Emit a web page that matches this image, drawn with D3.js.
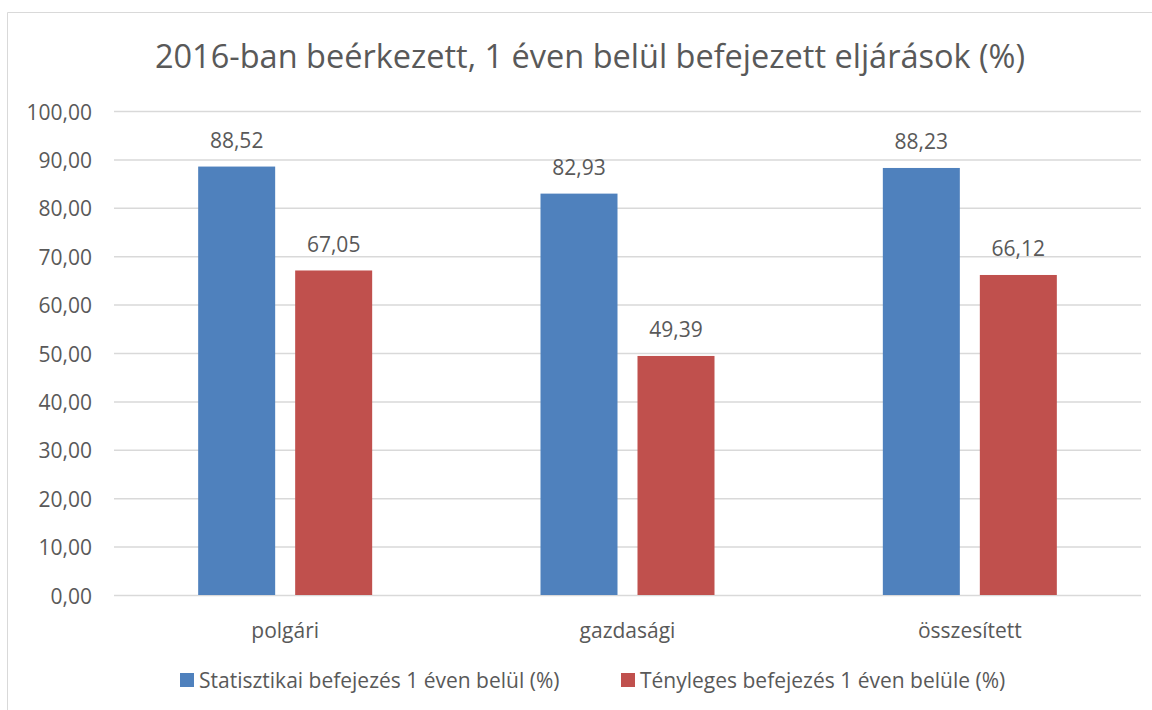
<!DOCTYPE html>
<html>
<head>
<meta charset="utf-8">
<script src="https://cdn.jsdelivr.net/npm/d3@7"></script>
<style>
  body { margin: 0; background: #fff; }
  text { font-family: "Open Sans", sans-serif; fill: #595959; }
</style>
</head>
<body>
<div class="chart"></div>
<script>
// data
const categories = ["polgári", "gazdasági", "összesített"];
const seriesNames = ["Statisztikai befejezés 1 éven belül (%)", "Tényleges befejezés 1 éven belüle (%)"];
const statisztikai = [88.52, 82.93, 88.23];
const tenyleges = [67.05, 49.39, 66.12];
const yTicks = [0, 10, 20, 30, 40, 50, 60, 70, 80, 90, 100];
const colors = ["#4F81BD", "#C0504D"];

const W = 1152, H = 710;
var svg = d3.select(".chart")
            .append("svg")
            .attr("width", W)
            .attr("height", H);

// outer border (chart area)
svg.append("path")
   .attr("d", "M7.5," + H + "V12.5H" + W)
   .attr("fill", "none")
   .attr("stroke", "#D9D9D9")
   .attr("stroke-width", 1);

svg.append("text")
   .attr("x", 590).attr("y", 68)
   .attr("text-anchor", "middle")
   .style("font-size", "32.5px")
   .text("2016-ban beérkezett, 1 éven belül befejezett eljárások (%)");

const plot = {left: 114, right: 1141, top: 111, bottom: 595};

var x = d3.scaleBand().domain(categories).range([plot.left, plot.right]);
var y = d3.scaleLinear().domain([0, 100]).range([plot.bottom, plot.top]);
var barW = 77, gap = 20;
var fs = "21px";

// gridlines
svg.append("g").selectAll("line").data(yTicks).join("line")
   .attr("x1", plot.left).attr("x2", plot.right)
   .attr("y1", d => y(d) + 0.5).attr("y2", d => y(d) + 0.5)
   .attr("stroke", "#D9D9D9").attr("stroke-width", 1.5);

// y tick labels
svg.append("g").selectAll("text").data(yTicks).join("text")
   .attr("x", 92).attr("y", d => y(d) + 8.5)
   .attr("text-anchor", "end")
   .style("font-size", fs)
   .text(d => d3.format(".2f")(d).replace(".", ","));

const series = [statisztikai, tenyleges];
series.forEach((vals, s) => {
  const off = s === 0 ? -gap / 2 - barW : gap / 2;
  const g = svg.append("g");
  g.selectAll("rect").data(vals).join("rect")
   .attr("x", (d, i) => x(categories[i]) + x.bandwidth() / 2 + off)
   .attr("y", d => y(d))
   .attr("width", barW)
   .attr("height", d => y(0) - y(d))
   .attr("fill", colors[s]);
  g.selectAll("text").data(vals).join("text")
   .attr("x", (d, i) => x(categories[i]) + x.bandwidth() / 2 + off + barW / 2)
   .attr("y", d => y(d) - 18.5)
   .attr("text-anchor", "middle")
   .style("font-size", fs)
   .text(d => d3.format(".2f")(d).replace(".", ","));
});

// category labels
svg.append("g").selectAll("text").data(categories).join("text")
   .attr("x", d => x(d) + x.bandwidth() / 2)
   .attr("y", 638)
   .attr("text-anchor", "middle")
   .style("font-size", fs)
   .text(d => d);

// legend
const legendX = [180, 621];
seriesNames.forEach((name, s) => {
  svg.append("rect")
     .attr("x", legendX[s]).attr("y", 673)
     .attr("width", 14).attr("height", 14)
     .attr("fill", colors[s]);
  svg.append("text")
     .attr("x", legendX[s] + 19).attr("y", 688)
     .style("font-size", fs)
     .text(name);
});
</script>
</body>
</html>
